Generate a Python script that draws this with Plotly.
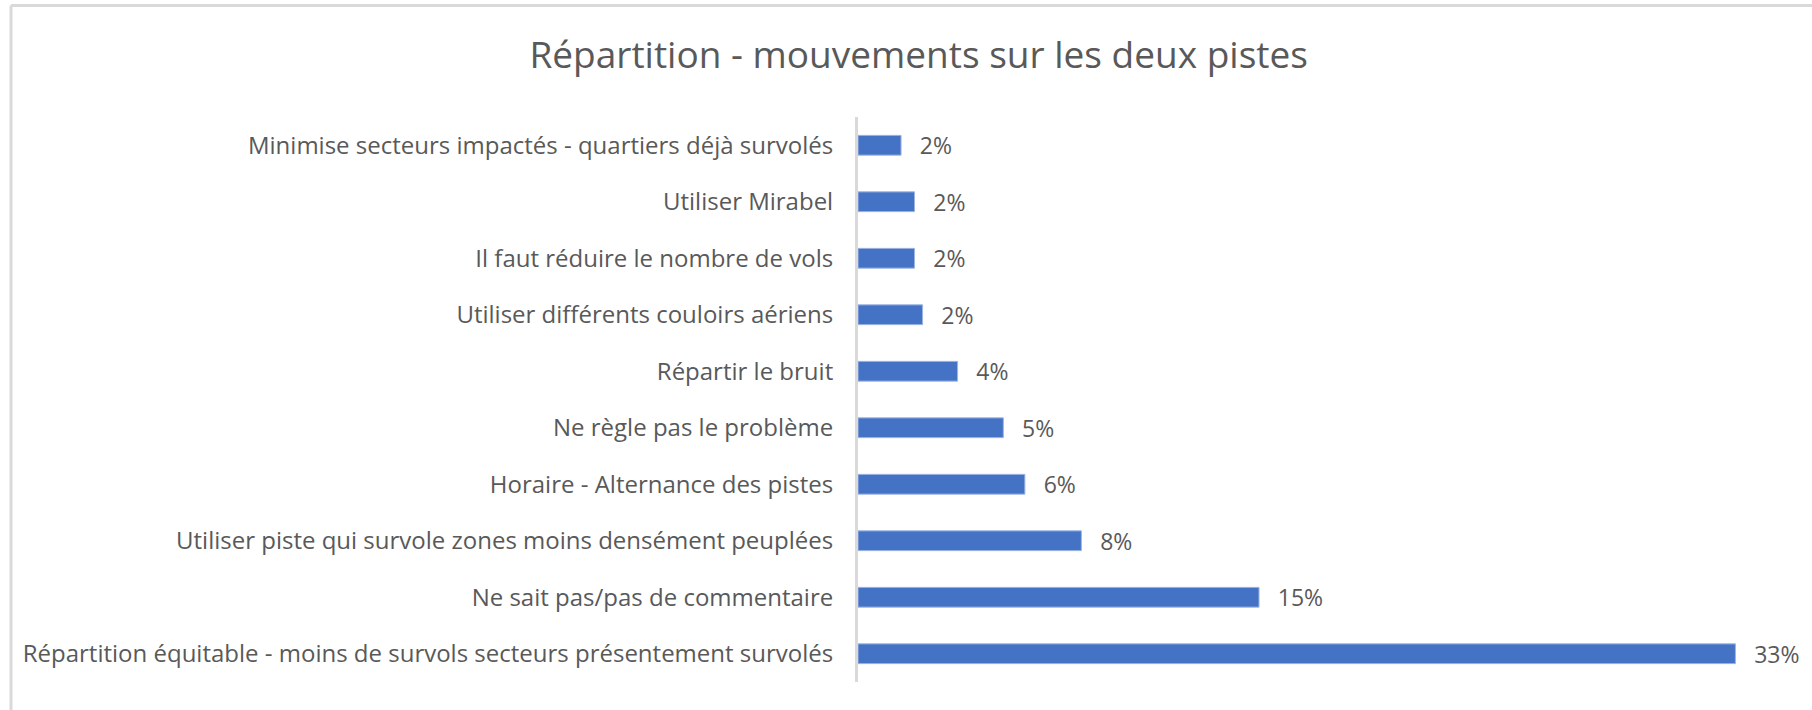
import plotly.graph_objects as go

# categories listed top to bottom, as in the reference
categories = [
    "Minimise secteurs impactés - quartiers déjà survolés",
    "Utiliser Mirabel",
    "Il faut réduire le nombre de vols",
    "Utiliser différents couloirs aériens",
    "Répartir le bruit",
    "Ne règle pas le problème",
    "Horaire - Alternance des pistes",
    "Utiliser piste qui survole zones moins densément peuplées",
    "Ne sait pas/pas de commentaire",
    "Répartition équitable - moins de survols secteurs présentement survolés",
]
shares = [0.016, 0.021, 0.021, 0.024, 0.037, 0.054, 0.062, 0.083, 0.149, 0.326]

title_text = "Répartition - mouvements sur les deux pistes"

text_grey = "#595959"
bar_blue = "#4472C4"
frame_grey = "#D9D9D9"

fig = go.Figure()
fig.add_trace(go.Bar(
    x=shares,
    y=categories,
    orientation="h",
    marker=dict(color=bar_blue, line=dict(color="#9DB5E3", width=1)),
    texttemplate="\u00a0\u00a0\u2009%{x:.0%}",
    textposition="outside",
    constraintext="none",
    cliponaxis=False,
    textfont=dict(family="Open Sans", size=23, color=text_grey),
    hoverinfo="x+y",
))

fig.update_layout(
    width=1812,
    height=710,
    margin=dict(l=858, r=12, t=117, b=28),
    paper_bgcolor="white",
    plot_bgcolor="white",
    bargap=0.65,
    showlegend=False,
    font=dict(family="Open Sans", color=text_grey),
    title=dict(
        text=title_text,
        x=0.507, xanchor="center",
        y=0.922, yanchor="middle",
        font=dict(family="Open Sans", size=37, color=text_grey),
    ),
    xaxis=dict(range=[0, 0.35], showticklabels=False, showgrid=False,
               zeroline=False, showline=False),
    yaxis=dict(autorange="reversed", showline=True, linecolor=frame_grey,
               linewidth=3, showgrid=False, ticks="", ticklabelstandoff=17,
               tickfont=dict(family="Open Sans", size=24, color=text_grey)),
    shapes=[
        # light frame around the chart (only top and left edges are visible)
        dict(type="line", xref="paper", yref="paper", x0=-847/942, x1=1.1,
             y0=1 + 111.5/565, y1=1 + 111.5/565, line=dict(color=frame_grey, width=3)),
        dict(type="line", xref="paper", yref="paper", x0=-847/942, x1=-847/942,
             y0=1 + 111.5/565, y1=-0.1, line=dict(color=frame_grey, width=3)),
    ],
)

# drop the default page margin so the figure sits at the window's corner
fig.write_html("out.html", config={"displayModeBar": False},
               post_script="document.body.style.margin='0';")
